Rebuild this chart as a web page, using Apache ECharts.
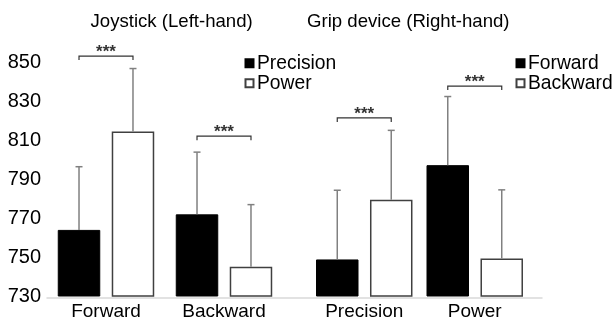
<!DOCTYPE html>
<html><head><meta charset="utf-8">
<script src="https://cdn.jsdelivr.net/npm/echarts@6/dist/echarts.min.js"></script>
<style>html,body{margin:0;padding:0;background:#fff}#c{width:614px;height:321px}</style>
</head><body><div id="c"></div>
<script>
// ---- data ----
const leftTitle = 'Joystick (Left-hand)';
const rightTitle = 'Grip device (Right-hand)';
const leftCategories = ['Forward', 'Backward'];
const rightCategories = ['Precision', 'Power'];
const leftSeriesNames = ['Precision', 'Power'];
const rightSeriesNames = ['Forward', 'Backward'];
const leftPrecision = [764, 772];
const leftPrecisionErr = [796.5, 804];
const leftPower = [814.6, 745];
const leftPowerErr = [847, 777];
const rightForward = [748.8, 797.3];
const rightForwardErr = [784.4, 832.6];
const rightBackward = [779.5, 749.3];
const rightBackwardErr = [815.2, 784.6];
const leftSig = [853.4, 812.2];
const rightSig = [821.6, 838];
const sigLabel = '***';
const yMin = 730, yMax = 850, yStep = 20;

// ---- styling ----
const FONT = 'Liberation Sans, Arial, sans-serif';
const BW = 42.5, GAP = 0.27;
const OFF = (BW + BW * GAP) / 2;
const ERR_COLOR = '#808080';

function errSeries(name, gridIdx, means, tops, side) {
  return {
    type: 'custom', name: name + '_err', xAxisIndex: gridIdx, yAxisIndex: gridIdx,
    data: means.map((m, i) => [i, m, tops[i]]),
    encode: { x: 0, y: [1, 2] }, z: 5, silent: true,
    renderItem: function (params, api) {
      const p0 = api.coord([api.value(0), api.value(1)]);
      const p1 = api.coord([api.value(0), api.value(2)]);
      const x = p0[0] + side * OFF;
      return { type: 'group', children: [
        { type: 'line', shape: { x1: x, y1: p0[1], x2: x, y2: p1[1] }, style: { stroke: ERR_COLOR, lineWidth: 1.5 } },
        { type: 'line', shape: { x1: x - 3.5, y1: p1[1], x2: x + 3.5, y2: p1[1] }, style: { stroke: ERR_COLOR, lineWidth: 1.5 } }
      ]};
    }
  };
}
function sigSeries(gridIdx, levels) {
  return {
    type: 'custom', xAxisIndex: gridIdx, yAxisIndex: gridIdx, silent: true, clip: false,
    data: levels.map((v, i) => [i, v]), encode: { x: 0, y: 1 }, z: 6,
    renderItem: function (params, api) {
      const p = api.coord([api.value(0), api.value(1)]);
      const xl = p[0] - OFF, xr = p[0] + OFF, y = p[1];
      return { type: 'group', children: [
        { type: 'polyline', shape: { points: [[xl, y + 4], [xl, y], [xr, y], [xr, y + 4]] }, style: { stroke: '#333', lineWidth: 1.2, fill: null } },
        { type: 'text', style: { text: sigLabel, x: p[0], y: y - 4, align: 'center', verticalAlign: 'middle', font: 'bold 17px ' + FONT, fill: '#333' } }
      ]};
    }
  };
}
function barSeries(name, gridIdx, data, black) {
  return {
    type: 'bar', name: name, xAxisIndex: gridIdx, yAxisIndex: gridIdx, data: data,
    barWidth: BW, barGap: (GAP * 100) + '%',
    itemStyle: black ? { color: '#000', borderColor: '#000', borderWidth: 1 } : { color: '#fff', borderColor: '#404040', borderWidth: 1.5 }
  };
}

const gridTop = 62.7, gridBottom = 23.5;
const catAxis = (idx, cats) => ({
  type: 'category', gridIndex: idx, data: cats,
  axisLine: { show: false }, axisTick: { show: false },
  axisLabel: { color: '#000', fontSize: 19, fontFamily: FONT, margin: 6 }
});
const valAxis = (idx, show) => ({
  type: 'value', gridIndex: idx, min: yMin, max: yMax, interval: yStep, show: show,
  splitLine: { show: false }, axisLine: { show: false }, axisTick: { show: false },
  axisLabel: { color: '#000', fontSize: 20, fontFamily: FONT, margin: 6 }
});
const legendText = { fontSize: 19.3, lineHeight: 19, color: '#000', fontFamily: FONT, padding: [0, 0, 0, -1.5] };

const chart = echarts.init(document.getElementById('c'), null, { renderer: 'canvas' });
chart.setOption({
  animation: false,
  backgroundColor: '#fff',
  title: [
    { text: leftTitle, left: 90.5, top: 12, padding: 0, textStyle: { fontSize: 18.6, fontWeight: 'normal', color: '#000', fontFamily: FONT } },
    { text: rightTitle, left: 307, top: 12, padding: 0, textStyle: { fontSize: 18.6, fontWeight: 'normal', color: '#000', fontFamily: FONT } }
  ],
  legend: [
    { data: leftSeriesNames, left: 244.5, top: 53.8, orient: 'vertical', icon: 'rect', itemWidth: 8, itemHeight: 8, itemGap: 1, padding: 0, selectedMode: false, textStyle: legendText },
    { data: rightSeriesNames, left: 515.5, top: 53.8, orient: 'vertical', icon: 'rect', itemWidth: 8, itemHeight: 8, itemGap: 1, padding: 0, selectedMode: false, textStyle: legendText }
  ],
  grid: [
    { left: 47, width: 236, top: gridTop, bottom: gridBottom },
    { left: 309, width: 221, top: gridTop, bottom: gridBottom },
    { left: 47, right: 72, top: gridTop, bottom: gridBottom }
  ],
  xAxis: [
    catAxis(0, leftCategories),
    catAxis(1, rightCategories),
    { type: 'value', gridIndex: 2, min: 0, max: 1, axisLine: { show: true, lineStyle: { color: '#d9d9d9', width: 1.5 } }, axisTick: { show: false }, axisLabel: { show: false }, splitLine: { show: false } }
  ],
  yAxis: [valAxis(0, true), valAxis(1, false), { type: 'value', gridIndex: 2, show: false }],
  series: [
    barSeries(leftSeriesNames[0], 0, leftPrecision, true),
    barSeries(leftSeriesNames[1], 0, leftPower, false),
    barSeries(rightSeriesNames[0], 1, rightForward, true),
    barSeries(rightSeriesNames[1], 1, rightBackward, false),
    errSeries('lp', 0, leftPrecision, leftPrecisionErr, -1),
    errSeries('lw', 0, leftPower, leftPowerErr, 1),
    errSeries('rf', 1, rightForward, rightForwardErr, -1),
    errSeries('rb', 1, rightBackward, rightBackwardErr, 1),
    sigSeries(0, leftSig),
    sigSeries(1, rightSig)
  ]
});
</script></body></html>
